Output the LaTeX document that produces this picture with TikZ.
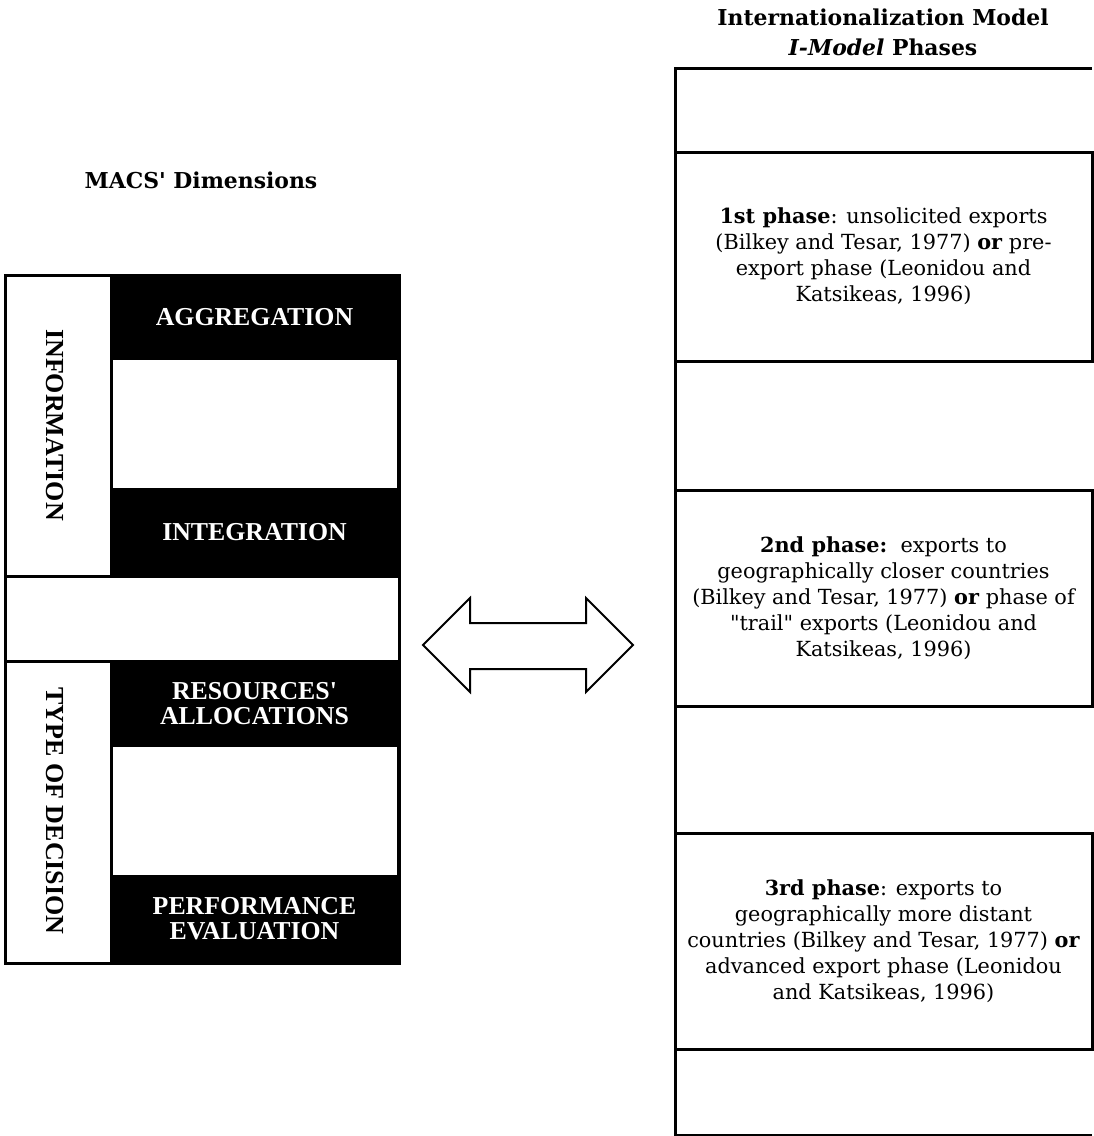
\documentclass[tikz,border=0pt]{standalone}
\usepackage{fontspec}
\newfontfamily\geo{DejaVu Serif}
\newfontfamily\timesf{Liberation Serif}
\begin{document}
\begin{tikzpicture}[x=1pt,y=-1pt,
  cell/.style={inner sep=0pt, outer sep=0pt, anchor=north west},
  blackcell/.style={cell, fill=black, text=white, align=center,
    font=\timesf\bfseries\fontsize{25.8}{25}\selectfont},
  whitecell/.style={cell, fill=white},
  sidelabel/.style={rotate=-90, font=\timesf\bfseries\fontsize{26}{26}\selectfont},
  phasebox/.style={cell, draw, line width=3pt, align=center,
    font=\geo\fontsize{20.8}{26}\selectfont},
  title/.style={font=\geo\bfseries\fontsize{21.9}{30}\selectfont, align=center},
  frame/.style={line width=3pt}
]
\useasboundingbox (0,0) rectangle (1094,1136);

% ---------- left table ----------
\node[title] (macs) at (201,180) {MACS' Dimensions};

\fill[black] (110,275) rectangle (399,576);
\fill[black] (110,661) rectangle (399,963);
\node[blackcell, minimum width=289pt, minimum height=85pt] (agg) at (110,275) {AGGREGATION};
\node[whitecell, minimum width=284pt, minimum height=128pt] (w1) at (113,360) {};
\node[blackcell, minimum width=289pt, minimum height=88pt] (integ) at (110,488) {INTEGRATION};
\node[blackcell, minimum width=289pt, minimum height=86pt] (res) at (110,661) {RESOURCES'\\ALLOCATIONS};
\node[whitecell, minimum width=284pt, minimum height=128pt] (w2) at (113,747) {};
\node[blackcell, minimum width=289pt, minimum height=88pt] (perf) at (110,875) {PERFORMANCE\\EVALUATION};

\draw[frame] (5,275) rectangle (399,963);
\draw[frame] (5,576) -- (399,576);
\draw[frame] (5,661) -- (399,661);

\node[sidelabel] (info) at (55,425) {INFORMATION};
\node[sidelabel] (tod) at (55,811) {TYPE OF DECISION};

% ---------- double arrow ----------
\draw[line width=2pt, line join=miter]
  (423,645) -- (470,598) -- (470,623) -- (586,623) -- (586,598) -- (633,645)
  -- (586,692) -- (586,669) -- (470,669) -- (470,692) -- cycle;

% ---------- right column ----------
\node[title] (imodel) at (883,32) {Internationalization Model\\\textit{I-Model} Phases};

\draw[line width=3pt] (1092,68) -- (675,68) -- (675,1135) -- (1092,1135);

\node[phasebox, minimum width=417pt, minimum height=209pt] (p1) at (675,152)
  {\textbf{1st phase}: unsolicited exports\\(Bilkey and Tesar, 1977) \textbf{or} pre-\\export phase (Leonidou and\\Katsikeas, 1996)};
\node[phasebox, minimum width=417pt, minimum height=216pt] (p2) at (675,490)
  {\textbf{2nd phase:}\ \ exports to\\geographically closer countries\\(Bilkey and Tesar, 1977) \textbf{or} phase of\\"trail" exports (Leonidou and\\Katsikeas, 1996)};
\node[phasebox, minimum width=417pt, minimum height=216pt] (p3) at (675,833)
  {\textbf{3rd phase}: exports to\\geographically more distant\\countries (Bilkey and Tesar, 1977) \textbf{or}\\advanced export phase (Leonidou\\and Katsikeas, 1996)};
\end{tikzpicture}
\end{document}
